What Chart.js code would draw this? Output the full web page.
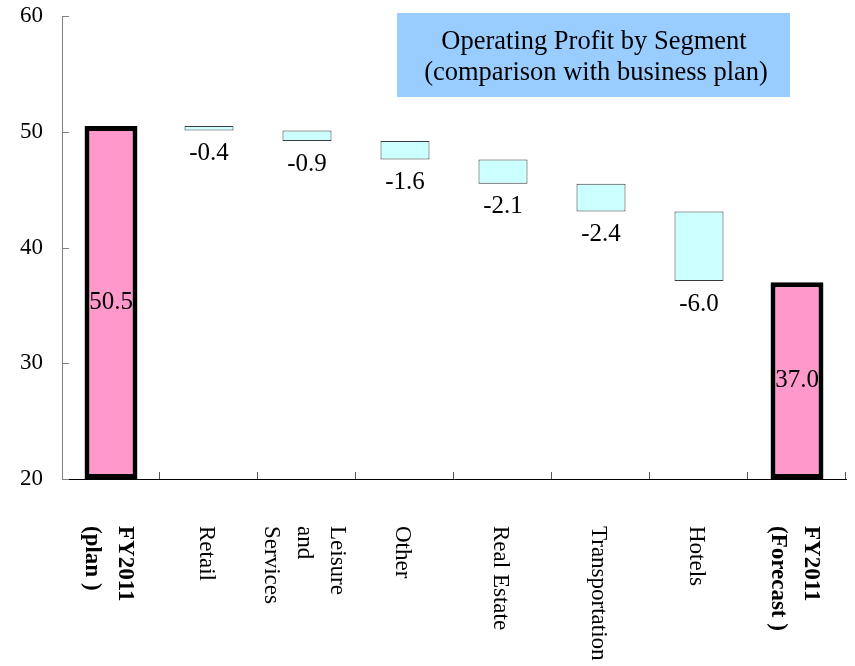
<!DOCTYPE html>
<html>
<head>
<meta charset="utf-8">
<script src="https://cdn.jsdelivr.net/npm/chart.js@4/dist/chart.umd.min.js"></script>
<style>
  html, body { margin: 0; padding: 0; background: #ffffff; }
  #wrap { width: 855px; height: 666px; position: relative; }
</style>
</head>
<body>
<div id="wrap"><canvas id="c" width="855" height="666"></canvas></div>
<script>
// ---- data ----
const categories = [
  ['FY2011', '(plan )'],
  ['Retail'],
  ['Leisure', 'and', 'Services'],
  ['Other'],
  ['Real Estate'],
  ['Transportation'],
  ['Hotels'],
  ['FY2011', '(Forecast )']
];
const boldCategories = [true, false, false, false, false, false, false, true];
const planValue = 50.5;
const forecastValue = 37.0;
const segmentChanges = [-0.4, -0.9, -1.6, -2.1, -2.4, -6.0];
const yTicks = [20, 30, 40, 50, 60];
const titleLines = ['Operating Profit by Segment', '(comparison with business plan)'];

// ---- build datasets from the arrays ----
const yMin = yTicks[0];
const yMax = yTicks[yTicks.length - 1];
const totalsData = categories.map(() => null);
totalsData[0] = [yMin, planValue];
totalsData[categories.length - 1] = [yMin, forecastValue];

const stepData = categories.map(() => null);
let running = planValue;
segmentChanges.forEach((d, i) => {
  const next = running + d;
  stepData[i + 1] = [Math.min(next, running), Math.max(next, running)];
  running = next;
});

const SERIF = '"Liberation Serif", "Times New Roman", serif';

const decorPlugin = {
  id: 'decor',
  afterDraw(chart) {
    const ctx = chart.ctx;
    const xs = chart.scales.x;
    const ys = chart.scales.y;
    const area = chart.chartArea;
    ctx.save();

    // y-axis inward tick marks
    ctx.strokeStyle = '#808080';
    ctx.lineWidth = 1;
    yTicks.forEach(v => {
      const y = Math.round(ys.getPixelForValue(v)) + 0.5;
      ctx.beginPath();
      ctx.moveTo(area.left, y);
      ctx.lineTo(area.left + 7, y);
      ctx.stroke();
    });

    // x-axis inward tick marks at category boundaries
    ctx.strokeStyle = '#555555';
    const step = (area.right - area.left) / categories.length;
    for (let i = 1; i <= categories.length; i++) {
      const x = Math.round(area.left + i * step) - 0.5;
      ctx.beginPath();
      ctx.moveTo(x, area.bottom);
      ctx.lineTo(x, area.bottom - 7);
      ctx.stroke();
    }

    // value labels
    ctx.fillStyle = '#000000';
    ctx.textAlign = 'center';
    ctx.textBaseline = 'middle';
    ctx.font = '25px ' + SERIF;
    const m0 = chart.getDatasetMeta(0);
    const m1 = chart.getDatasetMeta(1);
    [[0, planValue], [categories.length - 1, forecastValue]].forEach(([idx, val]) => {
      const el = m0.data[idx];
      const yc = (ys.getPixelForValue(yMin) + ys.getPixelForValue(val)) / 2;
      ctx.fillText(val.toFixed(1), el.x, yc);
    });
    segmentChanges.forEach((d, i) => {
      const el = m1.data[i + 1];
      const bottom = Math.max(el.y, el.base);
      ctx.fillText(d.toFixed(1), el.x, bottom + 23);
    });

    // rotated category labels (reading top to bottom)
    const lineGap = 33;
    categories.forEach((lines, i) => {
      const cx = xs.getPixelForValue(i) - 3;
      const n = lines.length;
      ctx.font = (boldCategories[i] ? 'bold ' : '') + '23px ' + SERIF;
      lines.forEach((line, j) => {
        const lx = cx + ((n - 1) / 2 - j) * lineGap;
        ctx.save();
        ctx.translate(lx, 526);
        ctx.rotate(Math.PI / 2);
        ctx.textAlign = 'left';
        ctx.textBaseline = 'middle';
        ctx.fillText(line, 0, 0);
        ctx.restore();
      });
    });

    // title box
    ctx.fillStyle = '#99CCFF';
    ctx.fillRect(397, 13, 393, 84);
    ctx.fillStyle = '#000000';
    ctx.font = '26.5px ' + SERIF;
    ctx.textAlign = 'center';
    ctx.textBaseline = 'alphabetic';
    ctx.fillText(titleLines[0], 594, 49);
    ctx.fillText(titleLines[1], 596, 80);

    ctx.restore();
  }
};

new Chart(document.getElementById('c'), {
  type: 'bar',
  data: {
    labels: categories.map(c => c.join(' ')),
    datasets: [
      {
        label: 'Totals',
        data: totalsData,
        backgroundColor: '#FF99CC',
        borderColor: '#000000',
        borderWidth: 5,
        borderSkipped: false,
        barPercentage: 0.54,
        categoryPercentage: 1,
        grouped: false
      },
      {
        label: 'Segments',
        data: stepData,
        backgroundColor: '#CCFFFF',
        borderColor: '#3a3a3a',
        borderWidth: 1,
        borderSkipped: false,
        barPercentage: 0.5,
        categoryPercentage: 1,
        grouped: false
      }
    ]
  },
  options: {
    responsive: false,
    animation: false,
    layout: { padding: { top: 16, right: 9, left: 0, bottom: 0 } },
    plugins: {
      legend: { display: false },
      tooltip: { enabled: false },
      title: { display: false }
    },
    scales: {
      x: {
        type: 'category',
        offset: true,
        grid: { display: false },
        border: { display: true, color: '#000000', width: 1 },
        ticks: { display: false },
        afterFit(scale) { scale.height = 187; }
      },
      y: {
        min: yMin,
        max: yMax,
        grid: { display: false, drawTicks: false },
        border: { display: true, color: '#808080', width: 1 },
        ticks: {
          stepSize: 10,
          padding: 19,
          color: '#000000',
          font: { family: SERIF, size: 23 }
        },
        afterFit(scale) {
          scale.width = 62;
          scale.paddingTop = 0;
          scale.paddingBottom = 0;
        }
      }
    }
  },
  plugins: [decorPlugin]
});
</script>
</body>
</html>
